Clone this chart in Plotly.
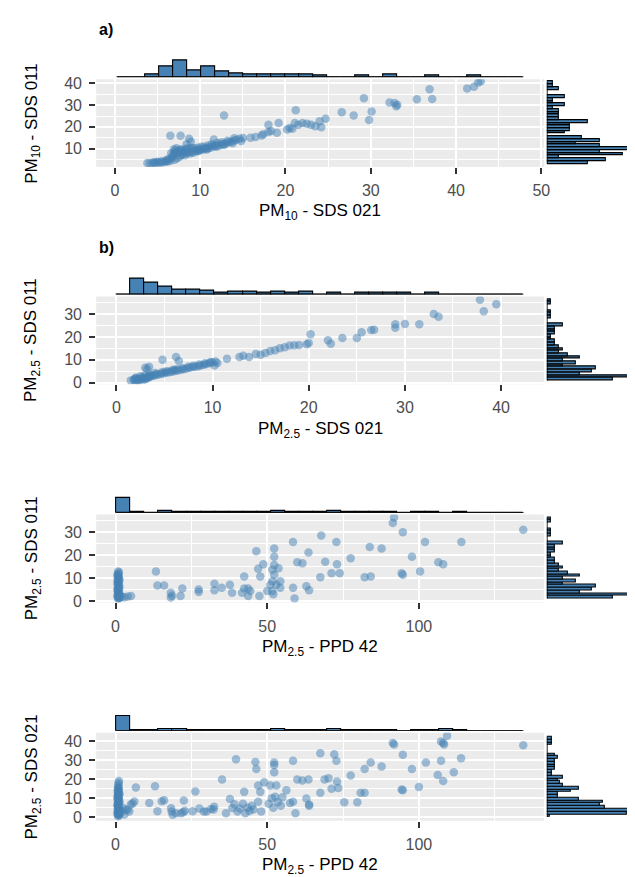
import plotly.graph_objects as go

W, H = 635, 877
FONT = "Liberation Sans, Arial, sans-serif"
STEEL = "#4682B4"

# ---------------- data ----------------
# a) PM10: SDS 021 (x) vs SDS 011 (y)
a_pts = [
    (3.8, 3.4), (4.1, 3.3), (4.4, 3.5), (4.7, 3.4), (5.0, 3.6), (5.3, 3.5), (5.6, 3.7), (5.9, 3.9),
    (6.2, 4.1), (6.5, 4.4), (6.1, 4.8), (6.4, 5.3), (6.7, 5.9), (6.8, 6.6), (6.9, 7.4), (7.0, 8.2),
    (7.1, 9.1), (7.2, 10.2), (7.0, 4.9), (7.3, 5.6), (7.6, 6.3), (7.8, 7.0), (8.0, 7.6), (8.2, 6.9),
    (8.4, 7.9), (8.6, 8.3), (8.8, 7.7), (9.0, 8.6), (9.2, 8.1), (9.4, 9.1), (9.6, 8.8), (9.8, 9.5),
    (10.0, 9.2), (10.2, 9.9), (10.4, 9.6), (10.6, 10.2), (10.8, 10.0), (11.0, 10.6), (11.2, 10.4),
    (11.5, 11.1), (11.8, 11.4), (12.1, 11.1), (12.4, 11.8), (12.7, 12.1), (13.0, 12.4), (13.3, 12.9),
    (13.6, 13.2), (13.9, 13.6), (14.2, 14.0), (14.6, 14.5), (15.0, 14.9), (7.5, 8.8), (8.5, 10.2),
    (9.0, 10.4), (6.0, 4.4), (11.6, 14.2), (7.8, 9.6), (8.1, 8.6),
    (7.3, 7.8), (7.6, 9.5), (8.0, 9.0), (8.3, 9.8), (8.8, 9.9), (9.3, 10.1), (9.7, 10.4), (10.1, 10.8),
    (10.5, 11.0), (11.0, 11.5), (11.4, 12.0), (12.0, 12.5), (12.5, 12.9), (13.2, 13.6), (14.0, 14.8),
    (6.6, 7.8), (6.9, 9.6), (5.5, 4.2), (5.0, 3.9), (4.6, 3.7), (14.8, 13.5), (13.8, 12.5),
    (12.8, 11.6), (11.8, 10.8), (10.8, 9.6), (9.8, 8.9),
    (6.5, 15.9), (7.7, 15.9), (8.7, 14.5), (8.9, 13.2), (8.4, 12.0), (12.8, 25.2),
    (15.9, 15.0), (16.5, 15.3), (17.2, 16.0), (17.4, 16.6), (18.0, 17.6), (18.3, 18.1), (19.0, 17.3),
    (18.0, 21.0), (19.2, 21.8), (20.2, 18.8), (20.5, 19.5), (20.8, 19.2), (21.1, 21.8), (22.0, 21.8),
    (22.5, 21.5), (23.0, 21.0), (23.5, 20.3), (24.2, 19.8), (24.0, 22.6), (24.7, 23.8), (21.5, 21.0),
    (21.2, 27.7),
    (26.6, 26.8), (28.0, 25.2), (29.8, 23.2), (30.1, 27.1), (29.2, 33.2), (32.2, 31.2), (32.8, 31.0),
    (33.1, 30.2), (33.0, 29.5), (35.4, 32.7), (37.2, 32.9), (36.9, 37.3), (41.3, 37.7), (42.1, 38.5),
    (42.6, 40.4), (42.9, 41.0),
]

# b) PM2.5: SDS 021 (x) vs SDS 011 (y)
b_pts = [
    (1.5, 1.0), (1.8, 1.2), (2.0, 1.0), (2.2, 1.5), (2.4, 1.3), (2.6, 1.8), (2.8, 2.0), (3.0, 1.9),
    (3.2, 2.4), (3.4, 2.6), (3.6, 2.8), (3.8, 3.0), (4.0, 3.2), (4.3, 3.5), (4.6, 3.8), (4.9, 4.0),
    (5.2, 4.3), (5.5, 4.6), (5.8, 4.8), (6.1, 5.1), (6.4, 5.3), (6.7, 5.6), (7.0, 5.9), (7.3, 6.2),
    (7.6, 6.5), (7.9, 6.8), (8.2, 7.0), (8.5, 7.2), (8.8, 7.5), (9.1, 7.8), (9.4, 8.2), (9.7, 8.6),
    (10.0, 8.8), (2.0, 2.2), (2.5, 2.8), (3.0, 3.2), (3.5, 3.6), (4.0, 4.2), (5.0, 4.8), (6.0, 5.6),
    (2.3, 0.8), (2.8, 1.4), (1.9, 1.6), (3.3, 2.0), (3.0, 1.5),
    (2.1, 1.9), (2.7, 2.4), (3.4, 3.0), (4.2, 3.8), (4.7, 4.4), (5.3, 5.0), (5.8, 5.4), (6.3, 5.9),
    (6.9, 6.3), (7.5, 7.0), (8.0, 7.4), (8.6, 7.9), (9.2, 8.5), (9.8, 9.0), (10.3, 9.3), (10.5, 8.6),
    (3.0, 6.5), (3.4, 7.0), (3.2, 6.0), (4.8, 10.0), (6.2, 11.2), (6.5, 9.5), (10.2, 7.5),
    (11.5, 10.5), (12.8, 11.2), (13.2, 11.8), (13.8, 11.2), (14.5, 12.5), (15.0, 12.2), (15.5, 13.0),
    (16.0, 13.8), (16.5, 14.2), (17.0, 15.0), (17.5, 15.5), (18.0, 16.2), (18.5, 16.3), (19.0, 16.5),
    (19.8, 16.8), (20.0, 17.3), (20.2, 21.2), (22.0, 18.5), (22.3, 17.0), (23.5, 19.5), (25.0, 19.5),
    (25.5, 22.0), (26.5, 23.0), (26.8, 23.1), (29.0, 25.5), (29.0, 24.0), (30.0, 25.6), (31.5, 25.5),
    (33.0, 30.0), (33.5, 28.8), (37.8, 36.2), (38.2, 31.2), (39.5, 34.3),
]

# c) PM2.5: PPD 42 (x) vs SDS 011 (y)
c_pts = [
    (0.8, 0.9), (1.0, 1.4), (0.7, 1.9), (1.1, 2.4), (0.9, 2.9), (0.8, 3.4), (1.0, 3.9), (0.7, 4.4),
    (1.1, 4.9), (0.9, 5.4), (0.8, 5.9), (1.0, 6.4), (0.7, 6.9), (1.1, 7.4), (0.9, 7.9), (0.8, 8.4),
    (1.0, 8.9), (0.7, 9.4), (1.1, 9.9), (0.9, 10.4), (0.8, 10.9), (1.0, 11.4), (0.7, 11.9), (1.1, 12.4),
    (0.9, 12.9), (1.2, 1.2), (1.3, 1.7), (0.6, 2.2), (1.4, 3.0), (0.6, 5.0), (1.3, 6.0), (0.6, 8.0),
    (1.3, 9.0), (0.6, 11.0), (2.9, 1.6), (4.0, 1.9), (5.1, 2.1), (2.0, 1.8),
    (13.3, 12.9), (13.8, 6.7), (16.0, 6.7), (18.2, 3.6), (18.2, 1.5), (18.6, 2.2), (21.4, 2.1),
    (22.0, 5.4), (27.4, 5.0), (27.4, 3.9), (32.6, 7.5), (32.6, 4.6), (35.0, 5.7), (37.7, 7.1),
    (38.4, 3.6), (41.7, 3.6), (42.4, 10.7), (42.4, 5.4), (43.7, 5.4), (44.4, 4.3), (43.7, 2.1),
    (46.4, 21.7), (47.0, 14.0), (47.7, 10.7), (48.7, 16.0), (47.4, 2.1), (50.0, 4.3), (51.0, 7.1),
    (51.7, 4.3), (52.0, 2.9), (51.7, 13.6), (52.3, 19.3), (52.3, 22.9), (52.3, 15.7), (52.3, 11.4),
    (51.7, 8.6), (53.0, 7.1), (53.7, 14.3), (54.3, 8.6), (54.3, 5.7), (58.5, 25.7), (58.5, 5.7),
    (59.0, 1.1), (59.9, 16.9), (61.6, 16.4), (63.6, 21.1), (62.9, 6.4), (63.8, 4.6), (67.8, 28.6),
    (67.5, 10.3), (69.1, 17.1), (71.2, 12.1), (72.8, 25.7), (73.0, 16.0), (73.9, 12.1), (77.5, 18.6),
    (82.1, 10.3), (84.1, 10.7), (83.8, 23.6), (87.7, 22.9), (91.8, 36.4), (91.4, 34.0), (94.7, 30.0),
    (94.3, 12.1), (94.7, 11.4), (97.7, 19.3), (100.4, 12.9), (102.0, 25.7), (106.4, 16.9),
    (108.0, 16.0), (114.0, 25.7), (134.4, 31.1),
]

# d) PM2.5: PPD 42 (x) vs SDS 021 (y)
d_pts = [
    (0.8, 0.5), (1.0, 1.0), (0.7, 1.5), (1.1, 2.0), (0.9, 2.5), (0.8, 3.0), (1.0, 3.5), (0.7, 4.0),
    (1.1, 4.5), (0.9, 5.0), (0.8, 5.5), (1.0, 6.0), (0.7, 6.5), (1.1, 7.0), (0.9, 7.5), (0.8, 8.0),
    (1.0, 8.5), (0.7, 9.0), (1.1, 9.5), (0.9, 10.0), (0.8, 10.5), (1.0, 11.0), (0.7, 11.5), (1.1, 12.0),
    (0.9, 12.5), (0.8, 13.0), (1.0, 13.5), (0.7, 14.0), (1.1, 14.5), (0.9, 15.0), (0.8, 15.5),
    (1.0, 16.0), (0.9, 17.0), (1.0, 18.0), (1.1, 19.0), (0.6, 2.2), (1.3, 3.2), (0.6, 6.2), (1.3, 8.2),
    (0.6, 10.2), (1.3, 12.2), (1.3, 1.2),
    (2.9, 1.4), (2.4, 4.9), (4.0, 4.0), (4.5, 3.0), (5.0, 6.6), (6.2, 8.2), (6.7, 15.6), (3.3, 3.8),
    (5.6, 7.2), (2.0, 2.9),
    (11.1, 7.4), (13.0, 16.3), (13.8, 3.1), (15.2, 8.3), (16.0, 8.9), (18.3, 4.7), (18.5, 2.9),
    (18.8, 1.2), (19.9, 2.1), (21.5, 2.1), (22.3, 2.6), (22.8, 3.3), (22.5, 8.7), (25.4, 3.1),
    (26.3, 13.5), (27.6, 4.6), (29.1, 2.9), (30.0, 3.0), (31.5, 4.3), (32.3, 4.0), (32.5, 5.5),
    (35.1, 19.8), (36.4, 2.1), (37.7, 9.5), (38.5, 4.8), (39.2, 6.8), (39.7, 30.5), (40.2, 3.0),
    (41.0, 4.5), (42.4, 13.3), (42.0, 7.0), (42.8, 2.0), (43.5, 5.0), (44.2, 3.2), (44.9, 6.0),
    (45.5, 4.0), (46.1, 29.1), (46.4, 25.3), (47.0, 16.7), (47.7, 13.3), (49.0, 18.4), (47.0, 8.1),
    (48.0, 3.0), (50.5, 7.0), (51.0, 16.7), (51.5, 10.0), (52.3, 28.8), (52.3, 27.4), (52.3, 23.6),
    (52.6, 10.7), (52.0, 5.0), (53.0, 16.7), (53.5, 8.0), (54.5, 6.0), (55.0, 10.5), (56.3, 14.1),
    (57.5, 7.5), (58.5, 29.7), (58.5, 8.1), (59.3, 2.1), (59.9, 19.8), (61.6, 19.3), (63.6, 19.8),
    (62.9, 9.8), (63.8, 6.7), (63.8, 6.0), (67.5, 33.6), (67.5, 12.9), (68.9, 19.8), (70.2, 20.5),
    (71.2, 15.0), (72.1, 33.1), (72.8, 29.7), (73.0, 18.8), (73.4, 15.3), (75.4, 7.8), (77.5, 21.9),
    (79.7, 7.8), (80.8, 12.9), (82.1, 12.9), (82.1, 25.3), (84.1, 28.8), (87.7, 26.7), (91.4, 39.1),
    (91.8, 38.3), (94.7, 32.9), (94.3, 14.5), (94.7, 14.1), (97.7, 25.3), (100.0, 15.9),
    (102.3, 28.8), (106.2, 22.2), (107.3, 29.7), (107.3, 39.8), (108.0, 39.1), (108.3, 38.3),
    (109.3, 42.9), (108.0, 19.0), (111.5, 23.6), (113.9, 31.0), (134.4, 37.9),
]

# marginal histograms: first bin edge, bin width, counts
a_top_bins = (0.26, 1.643)
a_top_counts = [0, 0, 2, 8, 12, 5, 8, 4, 3, 2, 2, 2, 2, 2, 1, 0, 0, 1, 0, 2, 0, 0, 1, 0, 0, 1, 0, 0, 0]
a_right_bins = (3.0, 1.263)
a_right_counts = [7, 10, 2, 13, 9, 14, 9, 5, 9, 6, 0, 3, 4, 4, 4, 7, 2, 2, 2, 2, 1, 3, 1, 1, 3, 0, 0, 2, 1, 1]

b_top_bins = (0.0, 1.459)
b_top_counts = [0, 12, 9, 6, 4, 4, 3, 1, 2, 2, 1, 2, 1, 2, 0, 1, 0, 1, 1, 1, 1, 0, 1, 0, 0, 0, 0, 0, 0]
sds011_pm25_bins = (1.0, 1.183)
sds011_pm25_counts = [16, 20, 8, 11, 12, 4, 7, 4, 8, 5, 3, 4, 3, 2, 2, 1, 1, 2, 2, 2, 4, 0, 0, 1, 1, 1, 0, 0, 1, 1]

c_top_bins = (0.3, 4.628)
c_top_counts = [100, 2, 1, 9, 3, 2, 3, 4, 7, 7, 7, 15, 6, 6, 3, 10, 3, 2, 3, 3, 1, 3, 2, 1, 2, 0, 0, 0, 1]

d_top_bins = (0.3, 4.628)
d_top_counts = [100, 3, 2, 9, 9, 3, 3, 4, 8, 8, 8, 15, 7, 7, 3, 9, 4, 3, 2, 3, 1, 3, 3, 9, 2, 0, 0, 0, 1]
d_right_bins = (0.0, 1.459)
d_right_counts = [1, 30, 31, 22, 20, 21, 12, 4, 4, 9, 12, 6, 5, 4, 6, 2, 2, 3, 3, 3, 3, 4, 3, 0, 0, 0, 2, 2, 2]

x_titles = ["PM<sub>10</sub> - SDS 021", "PM<sub>2.5</sub> - SDS 021",
            "PM<sub>2.5</sub> - PPD 42", "PM<sub>2.5</sub> - PPD 42"]
y_titles = ["PM<sub>10</sub> - SDS 011", "PM<sub>2.5</sub> - SDS 011",
            "PM<sub>2.5</sub> - SDS 011", "PM<sub>2.5</sub> - SDS 021"]
tags = ["a)", "b)", "", ""]
x_ticks = [[0, 10, 20, 30, 40, 50], [0, 10, 20, 30, 40], [0, 50, 100], [0, 50, 100]]
y_ticks = [[10, 20, 30, 40], [0, 10, 20, 30], [0, 10, 20, 30], [0, 10, 20, 30, 40]]

panels = [
    dict(pts=a_pts, top=(a_top_bins, a_top_counts), right=(a_right_bins, a_right_counts),
         xr=[-2.2, 50.3], yr=[1.5, 42.0], ptop=68, toph=16.7),
    dict(pts=b_pts, top=(b_top_bins, b_top_counts), right=(sds011_pm25_bins, sds011_pm25_counts),
         xr=[-2.1, 44.45], yr=[-0.7, 37.7], ptop=288, toph=16.0),
    dict(pts=c_pts, top=(c_top_bins, c_top_counts), right=(sds011_pm25_bins, sds011_pm25_counts),
         xr=[-6.4, 141.2], yr=[-0.7, 37.7], ptop=509, toph=15.3),
    dict(pts=d_pts, top=(d_top_bins, d_top_counts), right=(d_right_bins, d_right_counts),
         xr=[-6.4, 141.2], yr=[-1.9, 44.4], ptop=730, toph=15.3),
]

# ---------------- layout geometry (pixels) ----------------
PX_L, PX_R = 89, 541          # scatter panel x extent
RH_L, RH_R = 544, 631         # right histogram x extent
PANEL_H = 89
TOP_GAP, TOP_H = 2, 19


def fx(px):
    return px / W


def fy(py):
    return 1 - py / H


def sfx(k):
    return "" if k == 1 else str(k)


def midpoints(ticks, lo, hi):
    step = ticks[1] - ticks[0]
    vals = [ticks[0] - step / 2] + [t + step / 2 for t in ticks]
    return [v for v in vals if lo <= v <= hi]


fig = go.Figure()
layout = dict(width=W, height=H, margin=dict(l=0, r=0, t=0, b=0),
              plot_bgcolor="white", paper_bgcolor="white", showlegend=False,
              font=dict(family=FONT))
shapes, annotations = [], []

tickstyle = dict(ticks="outside", ticklen=6, tickwidth=1.5, tickcolor="#333333",
                 tickfont=dict(size=16, color="#4D4D4D", family=FONT),
                 showgrid=True, gridcolor="white", gridwidth=1.8,
                 zeroline=False, showline=False)
hidden = dict(visible=False, showgrid=False, zeroline=False, fixedrange=True)

for i, p in enumerate(panels):
    k1, k2, k3 = 3 * i + 1, 3 * i + 2, 3 * i + 3
    top_px, bot_px = p["ptop"], p["ptop"] + PANEL_H
    ydom = [fy(bot_px), fy(top_px)]
    xdom = [fx(PX_L), fx(PX_R)]

    # scatter axes
    layout["xaxis" + sfx(k1)] = dict(domain=xdom, range=p["xr"], anchor="y" + sfx(k1),
                                     tickvals=x_ticks[i], ticklabelstandoff=3,
                                     minor=dict(tickvals=midpoints(x_ticks[i], *p["xr"]), showgrid=True,
                                                gridcolor="white", gridwidth=0.9, ticks=""),
                                     **tickstyle)
    layout["yaxis" + sfx(k1)] = dict(domain=ydom, range=p["yr"], anchor="x" + sfx(k1),
                                     tickvals=y_ticks[i], ticklabelstandoff=4,
                                     minor=dict(tickvals=midpoints(y_ticks[i], *p["yr"]), showgrid=True,
                                                gridcolor="white", gridwidth=0.9, ticks=""),
                                     **tickstyle)
    shapes.append(dict(type="rect", xref="x" + sfx(k1) + " domain", yref="y" + sfx(k1) + " domain",
                       x0=0, x1=1, y0=0, y1=1, fillcolor="#EBEBEB", line=dict(width=0), layer="below"))

    xs = [q[0] for q in p["pts"]]
    ys = [q[1] for q in p["pts"]]
    fig.add_trace(go.Scatter(x=xs, y=ys, mode="markers", xaxis="x" + sfx(k1), yaxis="y" + sfx(k1),
                             marker=dict(size=8.5, color=STEEL, opacity=0.5, line=dict(width=0)),
                             hoverinfo="x+y"))

    # top histogram
    (t0, tw), tcounts = p["top"]
    tcent = [t0 + tw * (j + 0.5) for j in range(len(tcounts))]
    base_px = top_px - TOP_GAP
    layout["xaxis" + sfx(k2)] = dict(domain=xdom, range=p["xr"], anchor="y" + sfx(k2), **hidden)
    layout["yaxis" + sfx(k2)] = dict(domain=[fy(base_px), fy(base_px - TOP_H)],
                                     range=[0, max(tcounts) * TOP_H / p["toph"]],
                                     anchor="x" + sfx(k2), **hidden)
    fig.add_trace(go.Bar(x=tcent, y=tcounts, width=tw, xaxis="x" + sfx(k2), yaxis="y" + sfx(k2),
                         marker=dict(color=STEEL, line=dict(color="black", width=1.1))))
    fig.add_trace(go.Scatter(x=[t0, t0 + tw * len(tcounts)], y=[0, 0], mode="lines",
                             xaxis="x" + sfx(k2), yaxis="y" + sfx(k2),
                             line=dict(color="black", width=1.3), hoverinfo="skip"))

    # right histogram
    (r0, rw), rcounts = p["right"]
    rcent = [r0 + rw * (j + 0.5) for j in range(len(rcounts))]
    layout["xaxis" + sfx(k3)] = dict(domain=[fx(RH_L), fx(RH_R)],
                                     range=[0, max(rcounts) * (RH_R - RH_L) / 83.0],
                                     anchor="y" + sfx(k3), **hidden)
    layout["yaxis" + sfx(k3)] = dict(domain=ydom, range=p["yr"], anchor="x" + sfx(k3), **hidden)
    fig.add_trace(go.Bar(y=rcent, x=rcounts, width=rw, orientation="h",
                         xaxis="x" + sfx(k3), yaxis="y" + sfx(k3),
                         marker=dict(color=STEEL, line=dict(color="black", width=1.1))))
    fig.add_trace(go.Scatter(x=[0, 0], y=[r0, r0 + rw * len(rcounts)], mode="lines",
                             xaxis="x" + sfx(k3), yaxis="y" + sfx(k3),
                             line=dict(color="black", width=1.5), hoverinfo="skip"))

    # titles
    annotations.append(dict(text=x_titles[i], xref="paper", yref="paper",
                            x=fx((PX_L + PX_R) / 2), y=fy(bot_px + 46), showarrow=False,
                            xanchor="center", yanchor="middle",
                            font=dict(size=17, color="black", family=FONT)))
    annotations.append(dict(text=y_titles[i], xref="paper", yref="paper", textangle=-90,
                            x=fx(25), y=fy((top_px + bot_px) / 2), showarrow=False,
                            xanchor="center", yanchor="middle",
                            font=dict(size=17, color="black", family=FONT)))
    if tags[i]:
        annotations.append(dict(text="<b>" + tags[i] + "</b>", xref="paper", yref="paper",
                                x=fx(90), y=fy(top_px - 50), showarrow=False,
                                xanchor="left", yanchor="middle",
                                font=dict(size=16, color="black", family=FONT)))

layout["shapes"] = shapes
layout["annotations"] = annotations
layout["bargap"] = 0
fig.update_layout(**layout)
fig.write_html("out.html")
